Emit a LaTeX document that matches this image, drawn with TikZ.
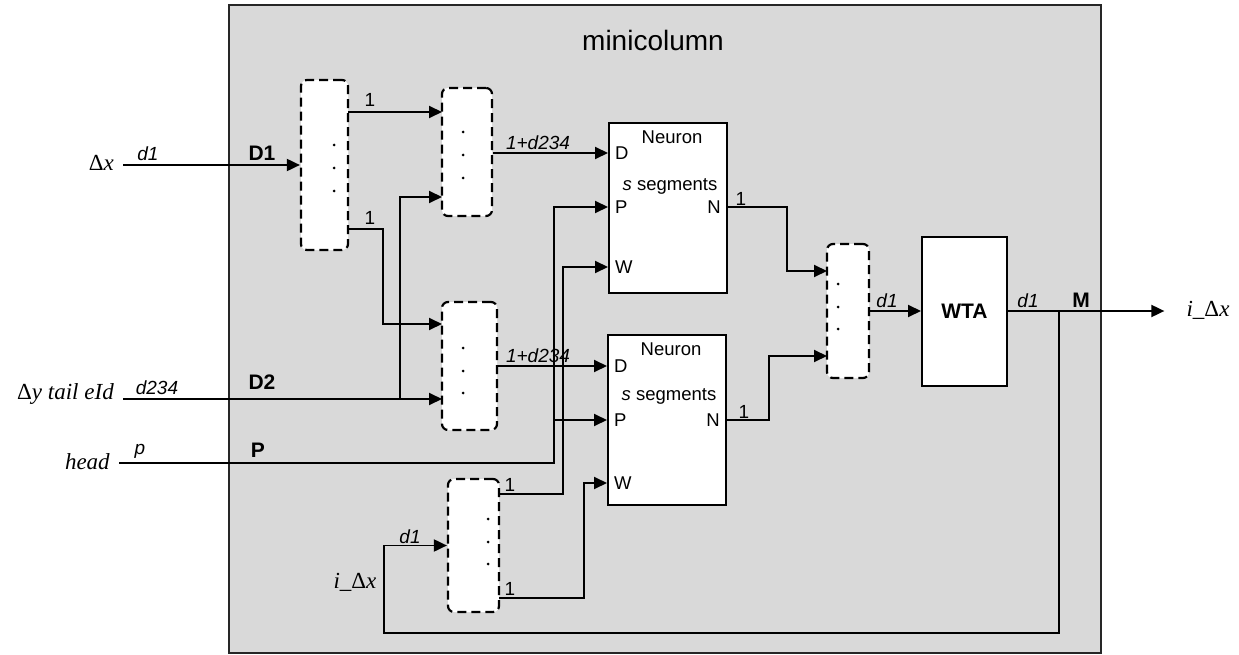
\documentclass[tikz,border=0pt]{standalone}
\usepackage{fontspec}
\setmainfont{Liberation Sans}
\newfontfamily\tnr{Liberation Serif}
\usetikzlibrary{positioning,arrows.meta}
\definecolor{colfill}{HTML}{D9D9D9}

\begin{document}
\begin{tikzpicture}[x=1pt,y=-1pt, every node/.style={inner sep=2pt},
  sig/.style={line width=1.9pt},
  arr/.style={sig,-{Triangle[length=13pt,width=12pt]}},
  splitbox/.style={draw,dash pattern=on 9pt off 5pt,fill=white,rounded corners=6pt,line width=2.2pt},
  cellbox/.style={draw,fill=white,line width=2pt},
  lbl/.style={font={\fontsize{19}{22}\selectfont\itshape}},
  num/.style={font={\fontsize{19}{22}\selectfont}},
  busl/.style={font={\fontsize{21}{24}\selectfont\bfseries}},
  portl/.style={font={\fontsize{18.5}{22}\selectfont}},
  extl/.style={font={\tnr\fontsize{23}{26}\selectfont}}]
\useasboundingbox (0,0) rectangle (1239,655);
% minicolumn frame
\node[draw=black!85,fill=colfill,line width=2.2pt,minimum width=872pt,minimum height=648pt] (mc) at (665,329) {};
\node[font={\fontsize{28}{32}\selectfont}] (title) at (653,40) {minicolumn};

% splitters, neurons, WTA
\node[splitbox,minimum width=47pt,minimum height=170pt] (sp1) at (324.5,165) {};
\node[splitbox,minimum width=50pt,minimum height=128pt] (sp2) at (467,152) {};
\node[splitbox,minimum width=55pt,minimum height=128pt] (sp3) at (469.5,366) {};
\node[splitbox,minimum width=51pt,minimum height=133pt] (sp4) at (473.5,545.5) {};
\node[splitbox,minimum width=42pt,minimum height=134pt] (sp5) at (848,311) {};
\foreach \px/\py in {334/145,334/168,334/191, 463/132,463/155,463/178, 463/348,463/371,463/393,
  488/519,488/542,488/564, 838/284,838/307,838/329}
  \fill (\px,\py) circle (1.5pt);

\node[cellbox,minimum width=118pt,minimum height=170pt] (nr1) at (668,208) {};
\node[portl] (nr1t) at (672,137) {Neuron};
\node[portl] (nr1s) at (670,186) {\textit{s} segments};
\node[portl,anchor=west] (nr1d) at (613,153) {D};
\node[portl,anchor=west] (nr1p) at (613,207) {P};
\node[portl,anchor=west] (nr1w) at (613,267) {W};
\node[portl,anchor=east] (nr1n) at (723,207) {N};

\node[cellbox,minimum width=118pt,minimum height=170pt] (nr2) at (667,420) {};
\node[portl] (nr2t) at (671,349) {Neuron};
\node[portl] (nr2s) at (669,396) {\textit{s} segments};
\node[portl,anchor=west] (nr2d) at (612,366) {D};
\node[portl,anchor=west] (nr2p) at (612,420) {P};
\node[portl,anchor=west] (nr2w) at (612,483) {W};
\node[portl,anchor=east] (nr2n) at (722,420) {N};

\node[cellbox,busl,minimum width=85pt,minimum height=149pt] (wta) at (964.5,311.5) {WTA};

% outside inputs and output
\node[extl,anchor=east] (dxl) at (116,163) {Δ\textit{x}};
\node[extl,anchor=east] (dyl) at (116,394) {Δ\textit{y tail eId}};
\node[extl,anchor=east] (hdl) at (112,462) {\textit{head}};
\node[extl] (fbl) at (355,582) {\textit{i}\_Δ\textit{x}};
\node[extl] (outl) at (1208,310) {\textit{i}\_Δ\textit{x}};

% port points
\coordinate (sp1a) at (348,112); \coordinate (sp1b) at (348,229);
\coordinate (sp2a) at (442,112); \coordinate (sp2b) at (442,197);
\coordinate (sp3a) at (442,324); \coordinate (sp3b) at (442,399);
\coordinate (sp4a) at (499,494); \coordinate (sp4b) at (499,598);
\coordinate (sp5a) at (827,271); \coordinate (sp5b) at (827,356);
\coordinate (jD2) at (400,399); \coordinate (jP) at (554,463);
\coordinate (jM) at (1059,311); \coordinate (fb) at (384,633);

% labels
\node[lbl] (l1) at (148,154) {d1};
\node[busl] (l2) at (262,153) {D1};
\node[lbl] (l3) at (157,388) {d234};
\node[busl] (l4) at (262,382) {D2};
\node[lbl] (l5) at (140,451) {p};
\node[busl] (l6) at (258,450) {P};
\node[num] (l7) at (370,100) {1};
\node[num] (l8) at (370,218) {1};
\node[lbl] (l9) at (538,143) {1+d234};
\node[lbl] (l10) at (538,356) {1+d234};
\node[num] (l11) at (741,199) {1};
\node[num] (l12) at (744,412) {1};
\node[num] (l13) at (510,485) {1};
\node[num] (l14) at (510,589) {1};
\node[lbl] (l15) at (410,537) {d1};
\node[lbl] (l16) at (887,301) {d1};
\node[lbl] (l17) at (1028,301) {d1};
\node[busl] (l18) at (1081,300) {M};

% connectors
\draw[arr,shorten <=7pt] (dxl.east |- sp1.west) -- (sp1.west);
\draw[arr] (sp1a) -- (sp2a);
\draw[arr] (sp1b) -- ++(35,0) |- (sp3a);
\draw[arr,shorten <=7pt] (dyl.east |- sp3b) -- (sp3b);
\draw[arr] (jD2) |- (sp2b);
\draw[arr] (sp2.east |- nr1d) -- (nr1.west |- nr1d);
\draw[arr] (sp3.east |- nr2d) -- (nr2.west |- nr2d);
\draw[arr,shorten <=7pt] (hdl.east |- jP) -- (jP) -- (jP |- nr1p) -- (nr1.west |- nr1p);
\draw[arr] (jP |- nr2p) -- (nr2.west |- nr2p);
\draw[arr] (sp4a) -- ++(64,0) |- (nr1.west |- nr1w);
\draw[arr] (sp4b) -- ++(85,0) |- (nr2.west |- nr2w);
\draw[arr] (nr1.east |- nr1n) -- ++(59,0) |- (sp5a);
\draw[arr] (nr2.east |- nr2n) -- ++(42,0) |- (sp5b);
\draw[arr] (sp5.east) -- (wta.west |- sp5.east);
\draw[arr,shorten >=20pt] (wta.east |- jM) -- (outl.west |- jM);
\draw[arr] (jM) |- (fb) |- (sp4.west);
\end{tikzpicture}
\end{document}
